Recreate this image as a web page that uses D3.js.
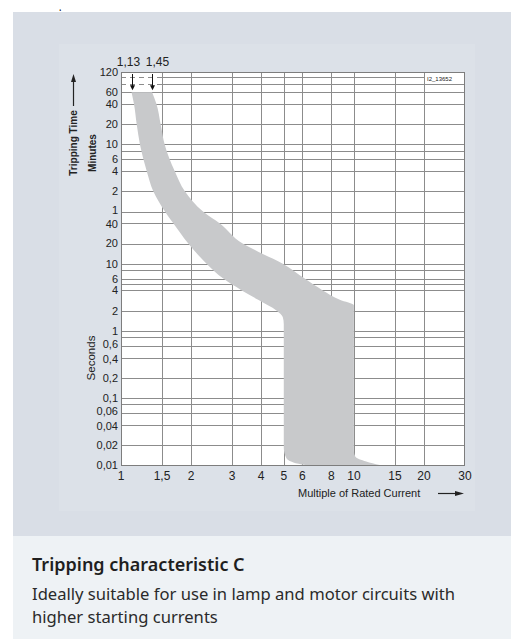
<!DOCTYPE html>
<html><head><meta charset="utf-8">
<script src="https://cdn.jsdelivr.net/npm/d3@7"></script>
<style>
html,body{margin:0;padding:0;background:#fff;}
svg{display:block;}
</style></head>
<body>
<svg id="chart" width="511" height="639"></svg>
<script>
// ---------- data ----------
const xTicks = [1, 1.5, 2, 3, 4, 5, 6, 8, 10, 15, 20, 30];
const xTickLabels = ["1", "1,5", "2", "3", "4", "5", "6", "8", "10", "15", "20", "30"];
const minuteGrid = [100, 80, 60, 40, 20, 10, 8, 6, 4, 2, 1];
const minuteDashed = [100, 80];
const secondGrid = [40, 20, 10, 8, 6, 5, 4, 2, 1, 0.8, 0.6, 0.4, 0.2, 0.1, 0.08, 0.06, 0.04, 0.02];
const minuteLabels = [120, 60, 40, 20, 10, 6, 4, 2, 1];
const secondLabels = [40, 20, 10, 6, 4, 2, 1, 0.6, 0.4, 0.2, 0.1, 0.06, 0.04, 0.02, 0.01];
// band boundaries: [multiple of rated current, tripping time in seconds]
const lowerCurve = [[1.11, 3600], [1.137, 2400], [1.168, 1200], [1.206, 600], [1.289, 240], [1.376, 120],
  [1.544, 60], [1.677, 40], [1.945, 20], [2.33, 10], [2.75, 6], [3.30, 4], [3.88, 2.9], [4.65, 2],
  [4.95, 1.6], [5.0, 1.25], [5.0, 0.018], [5.12, 0.0128], [5.5, 0.0109], [6.2, 0.01]];
const upperCurve = [[1.36, 3600], [1.42, 2400], [1.48, 1200], [1.54, 600], [1.70, 240], [1.88, 120],
  [2.25, 60], [2.65, 40], [3.33, 20], [3.9, 15], [4.95, 10], [6.15, 6], [7.35, 4], [8.7, 2.9],
  [10, 2.4], [10, 0.016], [10.15, 0.0133], [11.3, 0.0113], [12.9, 0.01]];
const arrowValues = [1.11, 1.36];
const arrowLabels = ["1,13", "1,45"];

// ---------- layout ----------
const svg = d3.select("#chart");
const x = d3.scaleLog().domain([1, 30]).range([121, 465]);
const y = d3.scaleLog().domain([0.01, 7200]).range([465, 72]);
const fmt = v => String(v).replace(".", ",");
const F = "'Liberation Sans', Arial, Helvetica, sans-serif";
const gridCol = "#8c8c8c";

// backgrounds
svg.append("rect").attr("x", 13).attr("y", 12).attr("width", 498).attr("height", 524).attr("fill", "#d9dee6");
svg.append("rect").attr("x", 59).attr("y", 44).attr("width", 416).attr("height", 467).attr("fill", "#dce1e8");
svg.append("rect").attr("x", 13).attr("y", 536).attr("width", 498).attr("height", 103).attr("fill", "#eef2f5");
svg.append("text").attr("x", 59).attr("y", 17).attr("font-size", 11).attr("font-family", F).attr("fill", "#111").text("‘");

// plot background
svg.append("rect").attr("x", x(1)).attr("y", y(7200)).attr("width", x(30) - x(1)).attr("height", y(0.01) - y(7200)).attr("fill", "#fff");

const grid = svg.append("g").attr("stroke", gridCol).attr("stroke-width", 1).attr("shape-rendering", "crispEdges");
// vertical gridlines
grid.selectAll("line.v").data(xTicks.slice(1, -1)).join("line")
  .attr("x1", d => Math.round(x(d)) + 0.5).attr("x2", d => Math.round(x(d)) + 0.5)
  .attr("y1", y(7200)).attr("y2", y(0.01));
// horizontal gridlines
const hLine = (t, x0, x1, dash) => grid.append("line")
  .attr("x1", x(x0)).attr("x2", x(x1))
  .attr("y1", Math.round(y(t)) + 0.5).attr("y2", Math.round(y(t)) + 0.5)
  .attr("stroke-dasharray", dash || null);
minuteGrid.forEach(m => {
  if (minuteDashed.includes(m)) {
    hLine(m * 60, 1, 1.5, "5,4");
    hLine(m * 60, 1.5, 30);
  } else hLine(m * 60, 1, 30);
});
secondGrid.forEach(s => hLine(s, 1, 30));

// label box at top right
svg.append("rect").attr("x", x(20) + 1).attr("y", y(7200) + 1).attr("width", x(30) - x(20) - 2).attr("height", 11).attr("fill", "#fff");
svg.append("text").attr("x", x(20) + 3).attr("y", y(7200) + 9).attr("font-size", 6).attr("font-family", F).attr("fill", "#222").text("I2_13652");

// band
const line = d3.line().x(d => x(d[0])).y(d => y(d[1])).curve(d3.curveMonotoneY);
const pL = line(lowerCurve);
const pU = line(upperCurve.slice().reverse());
svg.append("path").attr("d", pL + pU.replace(/^M/, "L") + "Z").attr("fill", "#c8c9cb");

// frame
svg.append("rect").attr("x", x(1) + 0.5).attr("y", Math.round(y(7200)) + 0.5)
  .attr("width", Math.round(x(30) - x(1)) - 1).attr("height", Math.round(y(0.01) - y(7200)))
  .attr("fill", "none").attr("stroke", "#7d7d7d").attr("stroke-width", 1).attr("shape-rendering", "crispEdges");

// arrows at top
arrowValues.forEach((v, i) => {
  const ax = Math.round(x(v)) + 0.5;
  svg.append("line").attr("x1", ax).attr("x2", ax).attr("y1", y(7200) + 2).attr("y2", y(3600) - 6)
    .attr("stroke", "#111").attr("stroke-width", 1);
  svg.append("path").attr("d", `M${ax - 2.5},${y(3600) - 7} L${ax + 2.5},${y(3600) - 7} L${ax},${y(3600) - 2} Z`).attr("fill", "#111");
  svg.append("text").attr("x", ax + (i === 0 ? -4 : 5)).attr("y", 65.5).attr("text-anchor", "middle")
    .attr("font-size", 12).attr("font-family", F).attr("fill", "#222").text(arrowLabels[i]);
});

// y labels (tight pairs nudged apart slightly)
const nudge = {"1m": -1.5, "40": 1, "0.6": -1.2, "0.4": 1.2, "0.06": -1.5, "0.04": 1.5};
const yl = svg.append("g").attr("font-family", F).attr("font-size", 11).attr("fill", "#222").attr("text-anchor", "end");
minuteLabels.forEach(m => yl.append("text").attr("x", 118).attr("y", y(m * 60) + (m === 1 ? nudge["1m"] : 0)).attr("dy", "0.36em").text(fmt(m)));
secondLabels.forEach(s => yl.append("text").attr("x", 118).attr("y", y(s) + (nudge[String(s)] || 0)).attr("dy", "0.36em").text(fmt(s)));

// x labels
const xl = svg.append("g").attr("font-family", F).attr("font-size", 12).attr("fill", "#222").attr("text-anchor", "middle");
xTicks.forEach((t, i) => xl.append("text").attr("x", x(t)).attr("y", 479.5).text(xTickLabels[i]));

// axis titles
svg.append("text").attr("transform", "translate(76.5,143) rotate(-90)").attr("text-anchor", "middle")
  .attr("font-family", F).attr("font-size", 10).attr("font-weight", "bold").attr("fill", "#222").text("Tripping Time");
svg.append("line").attr("x1", 73.5).attr("x2", 73.5).attr("y1", 106).attr("y2", 80).attr("stroke", "#222").attr("stroke-width", 1.2);
svg.append("path").attr("d", "M71,82 L76,82 L73.5,74 Z").attr("fill", "#222");
svg.append("text").attr("transform", "translate(95.5,153) rotate(-90)").attr("text-anchor", "middle")
  .attr("font-family", F).attr("font-size", 10).attr("font-weight", "bold").attr("fill", "#222").text("Minutes");
svg.append("text").attr("transform", "translate(95,358) rotate(-90)").attr("text-anchor", "middle")
  .attr("font-family", F).attr("font-size", 11.5).attr("fill", "#222").text("Seconds");
svg.append("text").attr("x", 298).attr("y", 497).attr("font-family", F).attr("font-size", 11).attr("fill", "#222")
  .text("Multiple of Rated Current");
svg.append("line").attr("x1", 438).attr("x2", 457).attr("y1", 493.5).attr("y2", 493.5).attr("stroke", "#222").attr("stroke-width", 1.2);
svg.append("path").attr("d", "M455,491 L455,496 L464,493.5 Z").attr("fill", "#222");

// caption
const C = "'Noto Sans', 'Open Sans', sans-serif";
svg.append("text").attr("x", 32).attr("y", 571).attr("font-family", C).attr("font-size", 18).attr("font-weight", 600)
  .attr("fill", "#1f1f1f").text("Tripping characteristic C");
svg.append("text").attr("x", 32).attr("y", 599.5).attr("font-family", C).attr("font-size", 16.6)
  .attr("fill", "#2a2a2a").text("Ideally suitable for use in lamp and motor circuits with");
svg.append("text").attr("x", 32).attr("y", 622.5).attr("font-family", C).attr("font-size", 16.6)
  .attr("fill", "#2a2a2a").text("higher starting currents");
</script>
</body></html>
